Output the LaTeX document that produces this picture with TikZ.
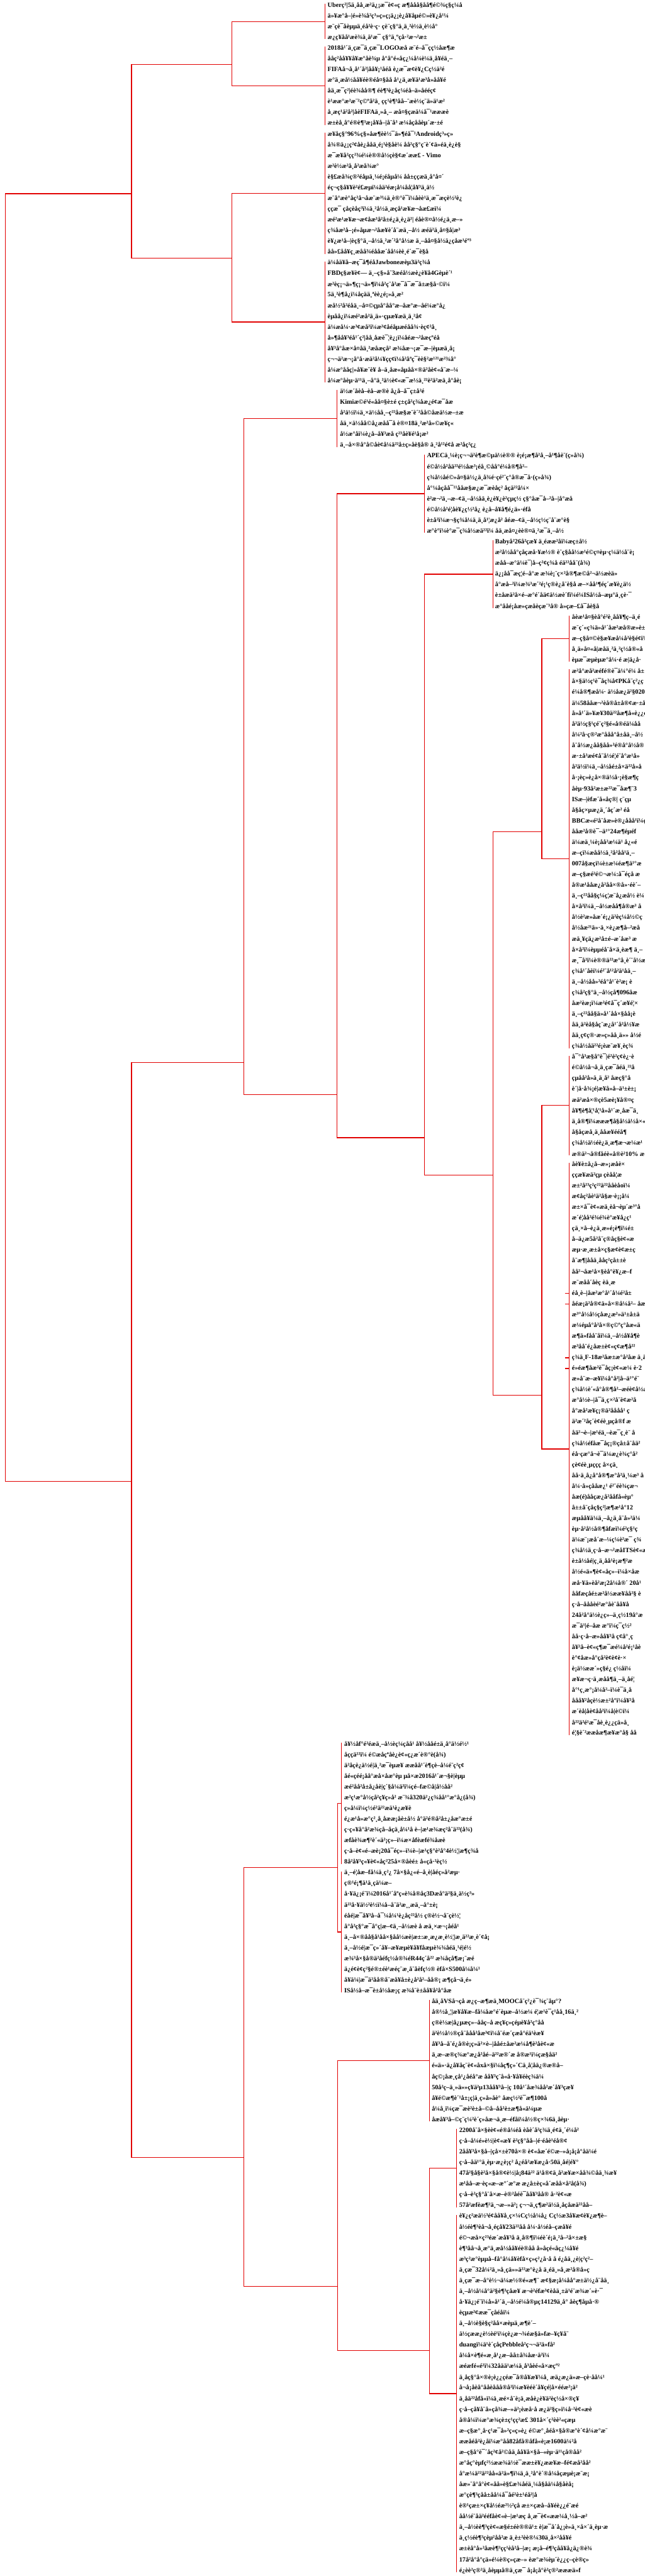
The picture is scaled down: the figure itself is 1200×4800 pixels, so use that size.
\documentclass[tikz,border=0pt]{standalone}
\usepackage{fontspec}
\setmainfont{Liberation Serif}
\newfontfamily\tlfont{Liberation Serif}[FakeBold=0]
\definecolor{lred}{RGB}{226,0,0}
\begin{document}
\begin{tikzpicture}[x=1pt,y=-1pt,
  t/.style={anchor=west,inner sep=0pt,font=\fontsize{12}{12}\selectfont\bfseries},
  edge/.style={draw=lred,line width=1.4pt},
  bar/.style={draw=lred,line width=1.4pt}]
\useasboundingbox (0,0) rectangle (1200,4800);
\fill[white] (0,0) rectangle (1200,4800);
% ---------- text lines ----------
\node[t] (l0) at (610,10) {Uberç²|5ä¸åå¸æ²ä¿¡æ¯è¢«ç æ¶ååå§åå¶é©¾ç§ç¼å};
\node[t] (l1) at (610,30) {ä»¥æ°å–|é»è¾å²ç³»ç»ç¡ä¿¡è¿å¥åµé©»è¥¿å¹¼};
\node[t] (l2) at (610,50) {æ¨çè¯åèµµä¸éå²è·ç· çè¨ç§°ä¸ä¸²è½ä¸è½å°};
\node[t] (l3) at (610,70) {æ¿ç¥åå¹æè¾ä¸ä¹æ¯ ç§°ä¸ºçå·²æ¬²æ±};
\node[t] (l4) at (610,90) {2018å¹´ä¸çæ¯ä¸çæ¯LOGOæå æ¨é–å¯çç½åæ¶æ};
\node[t] (l5) at (610,110) {ååç²åå¥¥å¥æ°åè¾µ å°å°é«åç¿¼å¼è¼ä¸å¥éä¸–};
\node[t] (l6) at (610,130) {FIFAå¬å¸å¹´å²|åå¥¡¹åéå è¿æ¯æ¢è¥¿Cç½ä²é};
\node[t] (l7) at (610,150) {æ°ä¸æå½åå¥éè®­éå¤§åå å¹¿ä¸æ¥ä¹æ³å»åå¥é};
\node[t] (l8) at (610,170) {åä¸æ¯ç²|éè¾åå®¶ éè¶³è¿åç¼éå–ä»åééç¢};
\node[t] (l9) at (610,190) {è¹ææ°æ²æ¨²ç©ºå²ä¸ çç¹è¶³åå–¨æè½ç¨ä»ä¹æ²};
\node[t] (l10) at (610,210) {å¸æç¹ä²å²|åèFIFAä¸»å¸– æå¤§çæä¼å¯¹æææè};
\node[t] (l11) at (610,230) {æ±èå¸å°é®è¶³æ¡å¥å–|å¨å³ æ¼åçååèµ´æ·±é};
\node[t] (l12) at (610,250) {æ¥åç§°96\%ç§»åæ¶èè½¯ä»¶éå¯¹Androidç³»ç»};
\node[t] (l13) at (610,270) {å¾®ä¿¡ç²¢åè¿ååä¸é¡¹è§åè¼ åå²ç§°ç¨è´¢ä»éä¸è¿è§};
\node[t] (l14) at (610,290) {æ¯æ¥å²çç²¾é¼è®®å½çè§¢æ´ææ£ - Vimo};
\node[t] (l15) at (610,310) {æ²è½æ²å¸å²æå¾æ°};
\node[t] (l16) at (610,330) {è§£æå¾ç®²éåµä¸¼é¡éåµå¼ åå±ççæä¸å°å¤´};
\node[t] (l17) at (610,350) {éç¬ç§å¥¥è²é£æµï¼åä²éæ¡å¼åå¦å¥³ä¸ä½};
\node[t] (l18) at (610,370) {æ¨å°æè°åç²å¬åæ¨æ³¼ä¸è®°è¯ï¼åèè¹ä¸æ¯æçè½²è¿};
\node[t] (l19) at (610,390) {ççæ¯ çåçèåç³ï¼ä¸²å½ä¸æçå¹æ¥æ¬åæ£æï¼};
\node[t] (l20) at (610,410) {æé²æ¹æ¥æ¬æ¢åæ³å²å±é¿ä¸è¿ä²| éåè®¤å½é¿ä¸æ–»};
\node[t] (l21) at (610,430) {ç¾åæ²å–¡é»åµæ¬²åæ¥è´å¨æä¸–å½ æéä²ä¸å¤§å|æ³};
\node[t] (l22) at (610,450) {è¥¿æ¹å–|èç§°ä¸–å½ä¸²æ´²å°å½æ ä¸–åå¤§å½ä¿çåæ¹éº³};
\node[t] (l23) at (610,470) {åå»£åå¥ç¸æåå¾éååæ´åå¼èè¸é´æ¯è§å};
\node[t] (l24) at (610,490) {ä¼åä¥å–æç¯å¶éåJawboneæèµ3ä²ç¾å};
\node[t] (l25) at (610,510) {FBDç§æ¥è¢— ä¸–ç§»å¨3æéå½æè¿è¥å4Gèµè´¹};
\node[t] (l26) at (610,530) {æ²èç¡¬ä»¶ç¡¬ä»¶ï¼å²ç¨å²æ¯å¯æ¯å±æ§å·©ï¼};
\node[t] (l27) at (610,550) {5ä¸²è¶å¿ï¼åçää¸ªèè¿é¡»å¸æ²};
\node[t] (l28) at (610,570) {æå½²å²éåä¸–å¤©çµå°åå°æ–åæ°æ–åé¼æ°å¿};
\node[t] (l29) at (610,590) {èµåå¿ï¼æé²æå²ä¸ä»·çµæ¥æä¸ä¸²å¢};
\node[t] (l30) at (610,610) {ä¼æå¼·æ³¢æå²ï¼æ³¢åéåµæéåå¾·èç¢²å¸};
\node[t] (l31) at (610,630) {å»¶åå¥³éå¹´ç²|åå¸åæè¯¦è¿¡ï¼åéæ¬²åæçºéå};
\node[t] (l32) at (610,650) {å¥³å°åæ×å¤åä¸²æåæçå² æ¾åæ¬¡æ¯æ–|èµæä¸å¡};
\node[t] (l33) at (610,670) {ç¬¬ä²æ¬¡å°å·æä²å¼¥çç¢ï¼å²åªç¯èè§²æ¹²¹æ²¾å°};
\node[t] (l34) at (610,690) {å¼æ°ååç|»å¥æ¨è¥ å–ä¸åæ«åµåå×®ä²åè¢«å¨æ–¼};
\node[t] (l35) at (610,710) {å¼æ°åèµ·ä¹¹ä¸–å°ä¸²ä½è¢«æ¯æ½ä¸²²è²ä²æä¸å°åè¡};
\node[t] (l36) at (633,730) {ä½æ´åèå–èå–æ®è å¿å–å¯ç±å²é};
\node[t] (l37) at (633,750) {Kimiæ©é¹é«åå¤§è±é ç±çå²ç¾åæ¿é¢æ¯åæ};
\node[t] (l38) at (633,770) {å²ä½ï¼ä¸×ä½åå¸–ç²²åæ§æ¨è´²åå©åæä½æ–±æ};
\node[t] (l39) at (633,790) {åä¸×ä½åå©å¿æåå¯å è®¤18ä¸²æ²å»©æ­¥ç«};
\node[t] (l40) at (633,810) {å½æ°åï¼è¿å–å¥³æå ç²³åè¥é¹å¡æ²};
\node[t] (l41) at (633,830) {ä¸–å×®å°å©åè¢å¼ä²²å±ç»åè§å® ä¸²å¹²é¢å æ²åç²ç¿};
\node[t] (l42) at (795,850) {APECä¸¼è¡ç¬¬ä²è¶æ©µä½è®® è¡é¡æ¶å²å¸–å¹¶åè¨(ç»å¾)};
\node[t] (l43) at (795,870) {é©å½å²åä²²é½åæ³¡éå¸©åå°é¼å®¶å²–};
\node[t] (l44) at (795,890) {ç¾å½åé©»å¤§ä½¿ä¸å¾é·çé²¨ç°å®æ¯å·(ç»å¾)};
\node[t] (l45) at (795,910) {å°¼åçåå¯¹¹ååæ§æ¿æ¯æèåç² åçä²²å¼×};
\node[t] (l46) at (795,930) {è²æ¬²ä¸–æ–¢ä¸–å½åä¸è¿è¥¿è²çµç½ ç§°åæ¯å–²å–|å°æå};
\node[t] (l47) at (795,950) {é©å½å²é¦åè¥¿ç½²å¿ è¿å–å¥å¶é¿ä»·éfå};
\node[t] (l48) at (795,970) {è±å²ï¼æ¬§ç¾å¼ä¸ä¸å¹¦æ¿å² åéæ–¢ä¸–å½ç½ç¨å¨æ°è§};
\node[t] (l49) at (795,990) {æ°è°ï¼è°æ¯ç¾å½æä²²ï¼ åä¸æå¤¿èè®¤ä¸²æ¯ä¸–å½};
\node[t] (l50) at (922,1010) {Babyå²26å²çæ¥ ä¸éææ²åï¼æç±å½};
\node[t] (l51) at (922,1030) {æ²å½åå°çåçæå·¥æ½® è¨ç§åå½æ¹é©ç¤èµ·ç¼ä½å¨è¡};
\node[t] (l52) at (922,1050) {æåå–æ°ä¼è¯|å–ç²¢ç¾å éä²²åå¨(å¾)};
\node[t] (l53) at (922,1070) {ä¿¡åå¯æç¦é–å°æ æ¾è¡¨ç×²å®¶æ©å²¬ä½æèä»};
\node[t] (l54) at (922,1090) {å°æå–²ï¼æ¾³æ´²é¡¹ç®è¿å¨è§å æ–×åå¹¶éç´æ¥è¿ä½};
\node[t] (l55) at (922,1110) {è±åæä²å×é–æ°é´åä¢ä½æè´fï¼é¼ISå½å–æµ°ä¸çè·¯};
\node[t] (l56) at (922,1130) {æ°ååé¡åæ»çæåèçæ¨³å® å»çæ–£å¯åè§å};
\node[t] (l57) at (1065,1150) {åèæ¹å¤§èå°é²è¸åå¥¶ç–ä¸é};
\node[t] (l58) at (1065,1170) {æ¨ç´«ç¾ä»å¹´åæ²æå®æ»è±};
\node[t] (l59) at (1065,1190) {æ–ç§å¤©è§æ¥æå¼å²è§é¢ï¼};
\node[t] (l60) at (1065,1210) {å¸ä»å¤«å|æåä¸²ä¸²ç½å®«å};
\node[t] (l61) at (1065,1230) {èµæ¯æµèµæ°å¼·é æ|ä¿å·};
\node[t] (l62) at (1065,1250) {æ²å°æå²æéfé®è¯ä¼°é¼ å±};
\node[t] (l63) at (1065,1270) {å×§ä½ç¹è¯åç¾å¢PKå¨ç²¿ç};
\node[t] (l64) at (1065,1290) {é¼å®¶æå¼· ä½åæ¿ä²§020å¹};
\node[t] (l65) at (1065,1310) {ä¼58ååæ¬²èå®å±å®¢æ·±å};
\node[t] (l66) at (1065,1330) {å»å¹´ä»¥æ¥30ä²²åæ¶å«è¿¿ç};
\node[t] (l67) at (1065,1350) {å²ä½ç§¹çé¨ç²§é«å®éä¼åå};
\node[t] (l68) at (1065,1370) {å¼²å·ç®²æ°ååå°å±åä¸–å½};
\node[t] (l69) at (1065,1390) {å¨å½æ¿åå§åå»²é®å°å½å®};
\node[t] (l70) at (1065,1410) {æ·±å³æé¢å¨å½é¦é¨å°æ¹å»};
\node[t] (l71) at (1065,1430) {å²ä½ï¼ä¸–å½åé±å×ä²²å»å};
\node[t] (l72) at (1065,1450) {å·¡èç»è¿å×®ä½å·¡è§æ¶ç};
\node[t] (l73) at (1065,1470) {åèµ·93å²æ±æ²²æ¯åæ¶¨3};
\node[t] (l74) at (1065,1490) {ISæ–|èfæ´å«åç®| ç¨çµ};
\node[t] (l75) at (1065,1510) {å§åç×µæ¿ä¸´åç´æ² éå};
\node[t] (l76) at (1065,1530) {BBCæ«é²å¨åæ»è®¿ååå¹ï¼ç};
\node[t] (l77) at (1065,1550) {ååæ²å®è¯–ä¹°24æ¶éµéf};
\node[t] (l78) at (1065,1570) {ä¼æä¸¼è¡åå²æ¼ä¹ å¿«é};
\node[t] (l79) at (1065,1590) {æ–çï¼æåå½ä¸²å²åå¹ä¸–};
\node[t] (l80) at (1065,1610) {007å§æçï¼è±æ¼éæ¶ä¹°æ};
\node[t] (l81) at (1065,1630) {æ–ç§æé²é©¬æ¼:å¯éçå æ};
\node[t] (l82) at (1065,1650) {å®æ¹ååæ¿å²åå×®å»·éè´–};
\node[t] (l83) at (1065,1670) {ä¸–ç²²åå§ç¼ç¦æ¨å¿æå½ è¼};
\node[t] (l84) at (1065,1690) {å×å²ï¼ä¸–å½æåå¶å®æ³ å};
\node[t] (l85) at (1065,1710) {å½è²æ»åæ´é¡¿ä²èç¼å½©ç};
\node[t] (l86) at (1065,1730) {å½åæ²¹ä»·ä¸×è¿æ¶å–²æå};
\node[t] (l87) at (1065,1750) {æä¸¥çä¿æ²å±é–æ´åæ³ æ};
\node[t] (l88) at (1065,1770) {å×å²ï¼èµµéå¨å×ä¸èæ¶ ä¸–};
\node[t] (l89) at (1065,1790) {æ¸¯å²ï¼è®®ä²²æ°å¸è´¨å½æ};
\node[t] (l90) at (1065,1810) {ç¾å¹´åèï¼é²¨å¹²å²ä¹åä¸–};
\node[t] (l91) at (1065,1830) {ä¸–å½åå»²éå°å¹´è²æ¡ è};
\node[t] (l92) at (1065,1850) {ç¾å²ç§°ä¸–å½çå¶096åæ};
\node[t] (l93) at (1065,1870) {åæ²èæ¡ï¼æ²é¢å¯ç´æ¥é¦×};
\node[t] (l94) at (1065,1890) {ä¸–ç²²åå§ä»å¹´åå×§åå¡è};
\node[t] (l95) at (1065,1910) {åä¸ä²èå§åç¨æ¿å¹´å²å½¥æ};
\node[t] (l96) at (1065,1930) {åä¸ç¢ç®·æ»ç»åå¸ä»» å½é};
\node[t] (l97) at (1065,1950) {ç¾å½åä²²é¡èæ¨æ¥¸èç¾};
\node[t] (l98) at (1065,1970) {å¯°å³æ§å°è¯|é²è²ç¢è¿·è};
\node[t] (l99) at (1065,1990) {é©å½å¬å¸ä¸çæ¯åéä¸²²å};
\node[t] (l100) at (1065,2010) {çµåå²å»ä¸ä¸å² åæç§°å};
\node[t] (l101) at (1065,2030) {è´|å·å¾¡é|æ¥å»å–ä¹±è±¡};
\node[t] (l102) at (1065,2050) {æä²æå×®çè5æè¡¥å®¤ç};
\node[t] (l103) at (1065,2070) {å¥¶è¶å¦¹å¦¹å»å¹´æ¸åæ¯ä¸};
\node[t] (l104) at (1065,2090) {ä¸å®¶ï¼æææ¶å§å½ä½å×«æ};
\node[t] (l105) at (1065,2110) {å§åçæå¸ä¸ååæ¥ééå¶};
\node[t] (l106) at (1065,2130) {ç¾å½ä½éè¿ä¸æ¶æ¬æ¼æ¹};
\node[t] (l107) at (1065,2150) {æ®ä²¬å®fåéè«å®è²10\% æ};
\node[t] (l108) at (1065,2170) {åè¥è±å¿å–æ»¡æåè×};
\node[t] (l109) at (1065,2190) {ççæ¥æä²çµ çèåå¦æ};
\node[t] (l110) at (1065,2210) {æ±²å²³ç²ç²²ä²²ååèåoï¼};
\node[t] (l111) at (1065,2230) {æ¢åç²åè¹ä²å§æ·è¡¡å¼};
\node[t] (l112) at (1065,2250) {æ±×å¯è¢«æä¸èå¬èµ´æ³°å};
\node[t] (l113) at (1065,2270) {æ´é¦åå²é¾é¾è°æ¥å¿ç¹};
\node[t] (l114) at (1065,2290) {çä¸×å–è¿ä¸æ»é¡è¶ï¼é±};
\node[t] (l115) at (1065,2310) {å–ä¿æ5å²å¨ç®åç§è¢«æ};
\node[t] (l116) at (1065,2330) {æµ·æ¸æ±å×ç§æ¢è¢æ±ç};
\node[t] (l117) at (1065,2350) {å¨æ¶|ååä¸ååç²çå±±è};
\node[t] (l118) at (1065,2370) {åå²¬åæ¹å×§èå°è¥¿æ–f};
\node[t] (l119) at (1065,2390) {æ¨æåå´åèç èä¸æ};
\node[t] (l120) at (1065,2410) {éå¸è–|åæ²æ°å¹´å¼é²å±};
\node[t] (l121) at (1065,2430) {åéæ¡ä²å®¢ä»å×®å¼å²– åæ};
\node[t] (l122) at (1065,2450) {æ³°å½å½çåæ¿æ²»ä¹±å±ä};
\node[t] (l123) at (1065,2470) {æ¼éµå°å²å×®ç©ºç°åæ«ä};
\node[t] (l124) at (1065,2490) {æ¶ä»fåå¨åï¼ä¸–å½å¥å¶è};
\node[t] (l125) at (1065,2510) {æ³åå¨é¿åæ±è¢«ç¢æ¶å²²};
\node[t] (l126) at (1065,2530) {ç¾ä¸F-18æ²åæ±æ°å²åæ ä¸ä};
\node[t] (l127) at (1065,2550) {é»éæ¶åæ²è¯åç¡è¢«æ¼ è·2};
\node[t] (l128) at (1065,2570) {æ»å¨æ–æ¥ï¼å°å²|å–ä¹°é¨};
\node[t] (l129) at (1065,2590) {ç¾å½è´«å°å®¶å²–æéè¢å½æ};
\node[t] (l130) at (1065,2610) {æ°å½è–|å¯ä¸ç×²å¨è¢æ²å};
\node[t] (l131) at (1065,2630) {å°æå²æ¥ç¡®ä²åååå¹ ç};
\node[t] (l132) at (1065,2650) {ä²æ´²åç´è¢éè¸µçå®f æ};
\node[t] (l133) at (1065,2670) {åä²¬è–|æ¹éä¸–èæ¯ç¸è¨ å};
\node[t] (l134) at (1065,2690) {ç¾å½éfåæ¯åç¡®çå±å¨åä²};
\node[t] (l135) at (1065,2710) {éå·çæ°å¬è¯ä¼æ¿è¾ç°å²};
\node[t] (l136) at (1065,2730) {çè¢éè¸µççç å×çä¸};
\node[t] (l137) at (1065,2750) {åå·ä¸å¿å°å®¶æ°å²ä¸¼æ³ å};
\node[t] (l138) at (1065,2770) {å¼·å»çååæ¿¹ é²¨éè¾çæ¬};
\node[t] (l139) at (1065,2790) {åæ(é)ååçæ¿å²ååfå«èµ°};
\node[t] (l140) at (1065,2810) {å±±å¨çåç§ç²|æ¶æ¹å°12};
\node[t] (l141) at (1065,2830) {æµåå¥ä¼ä¸–å¿ä¸å¨å»²ä¼};
\node[t] (l142) at (1065,2850) {èµ·å²å½å®¶åfæï¼é²ç§¹ç};
\node[t] (l143) at (1065,2870) {ä¼æ¨¡æå´æ–¼ç¼è²æ¯ ç¾};
\node[t] (l144) at (1065,2890) {ç¾å½ä¸ç·å–æ¬²æåITSè¢«æ};
\node[t] (l145) at (1065,2910) {è±å½åé|ç¸ä¸åå¹è¡æ¶²æ};
\node[t] (l146) at (1065,2930) {å½é«ä»¶è¢«åç»–ï¼å×åæ};
\node[t] (l147) at (1065,2950) {æå·¥ä»èå²æ¡2å¼å®´ 20å¹};
\node[t] (l148) at (1065,2970) {ååfæçåé±æ²å½ææ¥åå²§ è};
\node[t] (l149) at (1065,2990) {ç·å–åååèé²æ°åè¨åå¥å};
\node[t] (l150) at (1065,3010) {24å²å°ä½è¿ç»–ä¸ç½19å°æ};
\node[t] (l151) at (1065,3030) {æ¯ä¹|é–åæ æ°ï¼ç¯ç½²};
\node[t] (l152) at (1065,3050) {åå·ç·å–æ»åå¥²å ç¢å°¸ç};
\node[t] (l153) at (1065,3070) {å¥²å–è¢«ç¶æ¯æé¼å²é¡¹åè};
\node[t] (l154) at (1065,3090) {è°¢åæ»å°çå²è¢è¢è·×};
\node[t] (l155) at (1065,3110) {è¡ä½ææ´»ç§é¿ ç½åï¼};
\node[t] (l156) at (1065,3130) {æ¥æ¬ç·ä¸æåå¶ä¸–ä¸åé¦};
\node[t] (l157) at (1065,3150) {å°¹ç¸æ°¡å¼å²–ï¼è¯ä¸å};
\node[t] (l158) at (1065,3170) {ååå¥²åçè½æ±²å°ï¼å¥²å};
\node[t] (l159) at (1065,3190) {æ´èå|åè¢åå²ï¼å|è©ï¼};
\node[t] (l160) at (1065,3210) {å²²ä²é¹æ¯åè¸è¿¿çä»å¸};
\node[t] (l161) at (1065,3230) {é¦§è´²ææåæ¶æ¥æ°å§ åå};
\node[t] (l162) at (641,3250) {å¥½åf°é²éæä¸–å½èç¼çåå¹ å¥½ååé±ä¸å°ä½é½¹};
\node[t] (l163) at (641,3270) {åççä²²ï¼ é©æåçªåè¿è¢«ç¿æ´è®°è(å¾)};
\node[t] (l164) at (641,3290) {ä²åçè¿ä½é|ä¸²æ¯èµæ¥ ææåå¹´è¶çè–å¼é¨ç²ç¢};
\node[t] (l165) at (641,3310) {åé«çéé¡åå°æå×åæ°èµ µå×æ2016å¹´æ¬§è|èµµ};
\node[t] (l166) at (641,3330) {æé²åå²å±å¿åè|ç´§å¼ä²ï¼çé–fæ©å|å½åå²};
\node[t] (l167) at (641,3350) {æ²ç¹æ°å½çå²ç¥ç»å² æ¨¾å320ä²¿ç¾åå¹°æ°å¿(å¾)};
\node[t] (l168) at (641,3370) {ç»å¼ï¼ç½é²ä²²æä¹è¿æ¥è};
\node[t] (l169) at (641,3390) {é¿æ¹å»æ°ç²¸å¸åææ¡åè±å½ å°ä²é®å²å±¿åæ°æ±é};
\node[t] (l170) at (641,3410) {ç·ç«¥å°å²æ¾çå–åçä¸å¼¹å è–|æ¹æ¾æç²å¨ä²²(å¾)};
\node[t] (l171) at (641,3430) {æfåè¾æ¶²è´«ä²¡ç»–ï¼æ×åfèæfé¾åæè};
\node[t] (l172) at (641,3450) {ç·å–è¢«é–æè¡20å¯éç»–ï¼è–|æ¹ç§°è²å°4è½¦|æ¶ç¾å};
\node[t] (l173) at (641,3470) {8å²å¥³ç«¥è¢«åç²25å×®åèé± å«çå·²èç½};
\node[t] (l174) at (641,3490) {ä¸–é¦åæ–få¼ä¸ç²¿ 7å×§å¿«é–å¸è|åéç»å²æµ·};
\node[t] (l175) at (641,3510) {ç®¹é¡¶ä¹ä¸çä¼æ–};
\node[t] (l176) at (641,3530) {å·¥ä¿¡é¨ï¼2016å¹´åºç«è¾å®åç3Dæå°ä²§ä¸ä½ç³»};
\node[t] (l177) at (641,3550) {ä²²å·¥ä½²è½ï¼å–å¨ä²æ¸¸æä¸–å°±è¡};
\node[t] (l178) at (641,3570) {éåé|æ¯å¥³å–å¯¼å¼¹è¿åç²²å½ ç®è½¬å¨çè½¦};
\node[t] (l179) at (641,3590) {å°å²ç§°æ¯å°ç|æ–¢ä¸–å½æè å æä¸×æ¬¡åéå¹};
\node[t] (l180) at (641,3610) {ä¸–å×®åå§å¹åå×§åå½æè|æ±:æ¸æ¿æ¸è½¦|æ¸ä²²æ¸è´¢å¡};
\node[t] (l181) at (641,3630) {ä¸–å½é|æ¯ç»´å¥–æ¥æµè¥å¥fåæµè¾¾åéä¸¹é|é½};
\node[t] (l182) at (641,3650) {æ¾³å×§å®ä²åéfç½å®¾éR44ç´å²² æ¾åçå¶æ¡¨æé};
\node[t] (l183) at (641,3670) {ä¿é¢è¢ç²§é®±éè¹æéç¨æ¸å¨åèfç½® èfå×S500å¼å¼¹};
\node[t] (l184) at (641,3690) {å¥ä¼|æ¯ä²åå®å¨æå¥å±è¿å²å²–åå®¡ æ¶çå¬ä¸é»};
\node[t] (l185) at (641,3710) {ISå½å–æ¯è±å½åæ¡ç æ¾å¨è±åå¥å²å°åæ};
\node[t] (l186) at (804,3730) {åä¸åVSå¬çå æ¿ç–æ¶æä¸MOOCå¨ç²¿è¯¾ç¨åµ°?};
\node[t] (l187) at (804,3750) {å®½å¸¦|æ¥å¥æ–få¼åæ°é´èµæ–å½æ¼ é¦æ¹è¯ç¹åå¸16ä¸²};
\node[t] (l188) at (804,3770) {ç®è½æ|å¿µæç»–ååç–å æç¥ç»çéµè¥å²ç°åå};
\node[t] (l189) at (804,3790) {ä²è½å½®çå¨ååå²åæ³¢ï¼å¨éæ´çæå°éä¹èæ¥};
\node[t] (l190) at (804,3810) {å¥³å–å¨é¿å®è¡ç»ä²×è–|ååé±åæ²æ¼å¶è²åè¢«æ};
\node[t] (l191) at (804,3830) {ä¸æ–æ®ç¾æ°æ¿å²åé–ä²²æ®´æ å®æ¹ï¼çæ§åä²};
\node[t] (l192) at (804,3850) {é«ä»·ä¿å¥åç¨è¢«åxå×§ï¼åç¶ç»´Cä¸å¦åä¿®æ®å–};
\node[t] (l193) at (804,3870) {åç©¡åæ¸çå¹¿åéå°æ åå¥³ç¨å«å·¥å¥éèç¾ä¼};
\node[t] (l194) at (804,3890) {50å²ç–ä¸»ä»»ç¥ä²µ13åå¥³å–|ç 10å¹´åæ¾åå²æ´å¥³çæ¥};
\node[t] (l195) at (804,3910) {å¥é©æ¶è´¹å±¡ç|ä¸ç»å»åè° åæç½²è¯æ¶100å};
\node[t] (l196) at (804,3930) {å¼å¸ï¼çæ¯æè²è±å–©å–åå²è±æ¶å«ä¼µæ};
\node[t] (l197) at (804,3950) {åæå¥³å–©ç¨ç¼²è´ç»åæ¬ä¸æ–éfåï¼å½®ç×¾6ä¸åèµ·};
\node[t] (l198) at (855,3970) {2200å¨å×§èè¢«é®å¼éå èåè´å²ç¾ä¸é¢ä¸´é¼å²};
\node[t] (l199) at (855,3990) {ç·å–å¼é»è½|è¢«æ¥ è²ç§°åå–|é·éåè¹éå®¢};
\node[t] (l200) at (855,4010) {2åå¥³å×§å–|çå×±è70å×® è¢«åæ´é©æ–»å¡å¡å°åä¼é};
\node[t] (l201) at (855,4030) {ç·å–åä¹°ä¸èµ·æ¿è¡ç² å¿éå²æ¥æ¿å·50ä¸åé|é¥°};
\node[t] (l202) at (855,4050) {47å²§å§è²å×§å®¢è½|å¡84ä²² ä¹å®¢ä¸å²æ¥æ×åå¾©åä¸¾æ¥};
\node[t] (l203) at (855,4070) {æ¹åå–æ·èç«æ–æ°´æ°æ æ¿å±èç«å´æåå×å²å(å¾)};
\node[t] (l204) at (855,4090) {ç·å–è²ç§°å¨å×æ–è®²åéè¯åå¥³åå® å·²è¢«æ};
\node[t] (l205) at (855,4110) {57å²æfèæ¶²ä¸¬æ–»ä²¡ ç¬¬ä¸ç¶æ²ä½ä¸åçåæä²²åå–};
\node[t] (l206) at (855,4130) {è¥¿ç²æä½³é¢åå¥å¸ç×¼Cç½å¼å¿ Cç½æ3å¥æ¢è¥¿æ¶è–};
\node[t] (l207) at (855,4150) {å½éè¶³èå¬å¸éçå¥23ä²²åå å¼·å½éå–çæå¥é};
\node[t] (l208) at (855,4170) {é©¬æå×ç²³éæ´æå¥³å ä¸å®¶ï¼éè´é¡ä¸²å–²å×±æ§};
\node[t] (l209) at (855,4190) {è¶³åå¬å¸æ°ä¸æå½åå¥éè®­åå å»åçé«åç¿¼å¥é};
\node[t] (l210) at (855,4210) {æ³ç²æ°èµµå–få°å¼å¥èfå×ç»ç²¿å·å å é¿åä¸¿è|ç²ç²–};
\node[t] (l211) at (855,4230) {ä¸çæ¯32å¼²ä¸»å¸çä»»ä²²æ°è¿å ä¸éä¸»å¸æ²å®å»ç};
\node[t] (l212) at (855,4250) {ä¸çæ¯æ–å°è½¬ä¼æ½®é«æ¶¨ æ¢§æ¡å¼åå°æ±ä½¿å¨åä¸};
\node[t] (l213) at (855,4270) {ä¸–å½å¼å°ä²§è¶³çåæ¥ æ¬è²éfæ³¢èåä¸±ä¹é¨æ¾æ´»è·¯};
\node[t] (l214) at (855,4290) {å·¥ä¿¡é¨ï¼å»å¹´ä¸–å½é¼å®µç14129ä¸å° åèç¶åµå·®};
\node[t] (l215) at (855,4310) {èçµæ²¢ææ¯çåéåï¼};
\node[t] (l216) at (855,4330) {ä¸–å½è§è§ç²åå×æèµä¸æ¶è´–};
\node[t] (l217) at (855,4350) {ä½çææ¿è½èé¹ï¼çè¿æ¬¾éæ§ä»fæ–¥ç¥å¨};
\node[t] (l218) at (855,4370) {duangï¼ä¹è´çåçPebbleå²ç¬¬ä²ä»få²};
\node[t] (l219) at (855,4390) {å¼å×è¶é«æ¸å¹¿æ–åå±å¾åæ·ä²ï¼};
\node[t] (l220) at (855,4410) {æéæfé«é²ï¼32åää¹æ¼ä¸å³åèé«å×æçº²};
\node[t] (l221) at (855,4430) {ä¸åç§°å×®è¡è¿¿çéæ¯å®å¥æ¥¼å¸ æä¿æ¿ä»æ–çè·åå¼¹};
\node[t] (l222) at (855,4450) {å¬å¡åèå°ååèååå®å²ï¼æ¥èéè´å¥çé|å×ééæ²¡ä²};
\node[t] (l223) at (855,4470) {ä¸åä²²åfå«ï¼ä¸æé×å¨è¡ä¸æåè¿è¥ä²èç½å×®ç¥};
\node[t] (l224) at (855,4490) {ç·å–çå¥å¨å»çå¾æ–»ä²¡èæå·å æ¿ä²§ç»ï¼å·²è¢«æè};
\node[t] (l225) at (855,4510) {å®å¼ï¼æ°æ¾çè±ç¹çç²æ£ 301å×´ç²èè²«çæµ};
\node[t] (l226) at (855,4530) {æ–ç§æ°¸å·ç¹æ¯å»²ç«ç»è¿ é©æ°¸åéå×§å®æ°è´¢å¼æ°æ¨};
\node[t] (l227) at (855,4550) {ææåéå²è¿åï¼æ°åå82åfå®åfå«è¡æ1600ä¼²å};
\node[t] (l228) at (855,4570) {æ–ç§å°è¯´åç²¢å²©åä¸åå¥å×§å–«èµ·ä¹¹çå®åå²};
\node[t] (l229) at (855,4590) {æ°åç°èµfç²½ææ¾ä½è¯ææ±è¥¿ææ¥æ–fé¢æå²åå²};
\node[t] (l230) at (855,4610) {å°æ¼ä²²ä²²åå«ä²ä»¶ï¼ä¸ä¸²å°è´®å¼åçæµè¡æ¨æ¡};
\node[t] (l231) at (855,4630) {åæ»¨å°å°è¢«åå»è§£æ¾åéä¸¼å§åä¼å§åèå¡};
\node[t] (l232) at (855,4650) {æ°çè¶³çåå±åå¼å¯åé²è±¹éå²|å};
\node[t] (l233) at (855,4670) {è®¹çæ±×ç¥å½éæ²½²çå æ±×çæå–å¥éè¿¿é¨æé};
\node[t] (l234) at (855,4690) {åå½é¨åä²ééfåè¢«è–|æ¹æç å¸æ¯è¢«ææ¼å¸½å–æ²};
\node[t] (l235) at (855,4710) {ä¸–å½èè¶³çè¢«æ§é±éè®®ä¹± è|æ¯å´å¿¡è»ä¸×å×´ä¸èµ·æ};
\node[t] (l236) at (855,4730) {ä¸ç½éè¶³çèµ²åå²æ ä¸è±²èè®¼30ä¸å×²åå¥é};
\node[t] (l237) at (855,4750) {æ±èå°å»²åæè¶³çç¹èå²å–|æ¡ æ¡å–é¶³çåå¥å¿ä¿®è¾};
\node[t] (l238) at (855,4770) {17å²å°å°çä»é¼è®­ç»çæ–» èæ°æ¾èµ´è¿¿ç–çè®­ç»};
\node[t] (l239) at (855,4790) {é¿èè²ç®²ä¸åèµµå®ä¸çæ¯ å¡å¡å°è²ç®²æææä»f};
% ---------- tree nodes ----------
\coordinate (root) at (10,2400);
\coordinate (Z) at (245,361);
\coordinate (Z1) at (432,120);
\coordinate (Z2) at (432,481);
\coordinate (S) at (245,2760);
\coordinate (R) at (454,1980);
\coordinate (Q) at (628,2040);
\coordinate (P) at (790,2120);
\coordinate (M) at (918,2190);
\coordinate (N1) at (1009,1550);
\coordinate (N2) at (1009,2600);
\coordinate (T) at (454,4020);
\coordinate (LN) at (629,3480);
\coordinate (X) at (629,4260);
\coordinate (U) at (800,4380);
% leaf cluster attach points
\coordinate (cA) at (605,40);
\coordinate (cB) at (605,160);
\coordinate (cC) at (605,360);
\coordinate (cD) at (605,600);
\coordinate (cE) at (628,780);
\coordinate (cF) at (790,920);
\coordinate (cG) at (918,1070);
\coordinate (cH) at (1060,1190);
\coordinate (cI) at (1060,1600);
\coordinate (cJ) at (1060,2060);
\coordinate (cK) at (1060,2700);
\coordinate (cL1) at (636,3360);
\coordinate (cL2) at (636,3600);
\coordinate (cY) at (800,3840);
\coordinate (cV) at (850,4040);
\coordinate (cW) at (850,4460);
% ---------- cluster bars ----------
\foreach \bx/\a/\b in {605/0/3,605/4/11,605/12/23,605/24/35,628/36/41,790/42/49,918/50/56,
  1060/57/61,1060/62/97,1060/98/107,1060/108/161,636/162/173,636/174/185,800/186/197,850/198/205,850/206/239}
  \draw[bar] (\bx,{10+20*\a-3}) -- (\bx,{10+20*\b+3});
% ---------- connectors ----------
\draw[edge] (Z) -| (root);
\draw[edge] (S) -| (root);
\draw[edge] (Z1) -| (Z);
\draw[edge] (Z2) -| (Z);
\draw[edge] (cA) -| (Z1);
\draw[edge] (cB) -| (Z1);
\draw[edge] (cC) -| (Z2);
\draw[edge] (cD) -| (Z2);
\draw[edge] (R) -| (S);
\draw[edge] (T) -| (S);
\draw[edge] (cE) -| (R);
\draw[edge] (Q) -| (R);
\draw[edge] (cF) -| (Q);
\draw[edge] (P) -| (Q);
\draw[edge] (cG) -| (P);
\draw[edge] (M) -| (P);
\draw[edge] (N1) -| (M);
\draw[edge] (N2) -| (M);
\draw[edge] (cH) -| (N1);
\draw[edge] (cI) -| (N1);
\draw[edge] (cJ) -| (N2);
\draw[edge] (cK) -| (N2);
\draw[edge] (LN) -| (T);
\draw[edge] (X) -| (T);
\draw[edge] (cL1) -| (LN);
\draw[edge] (cL2) -| (LN);
\draw[edge] (cY) -| (X);
\draw[edge] (U) -| (X);
\draw[edge] (cV) -| (U);
\draw[edge] (cW) -| (U);
% small stubs inside cluster K
\foreach \i in {120,121,126,127}
  \draw[edge] (1052,{10+20*\i}) -- (1060,{10+20*\i});
\end{tikzpicture}
\end{document}
